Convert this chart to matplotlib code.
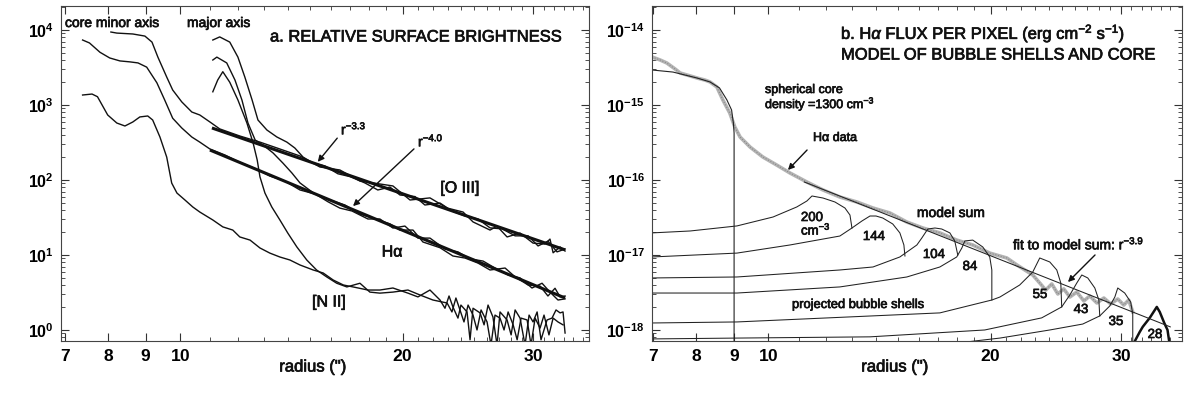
import matplotlib
matplotlib.use('Agg')
import matplotlib.pyplot as plt
import matplotlib.patheffects as pe
from matplotlib.ticker import FixedLocator, NullFormatter, FixedFormatter, LogLocator

plt.rcParams['font.family'] = ['Liberation Sans', 'DejaVu Sans']
plt.rcParams['mathtext.fontset'] = 'custom'
plt.rcParams['mathtext.rm'] = 'Liberation Sans'
plt.rcParams['mathtext.it'] = 'Liberation Sans:italic'
plt.rcParams['mathtext.bf'] = 'Liberation Sans:bold'

# ---------------- data: panel a (relative surface brightness) ----------------
oiii_minor_r = [8.07, 8.22, 8.64, 8.97, 9.17, 9.34, 9.60, 9.78, 10.06, 10.38, 10.64, 10.98, 11.32, 12.05, 12.83,
                13.65, 14.53, 15.46, 16.45, 17.51, 18.63, 19.40, 20.46, 21.77, 22.96, 24.13, 24.89, 26.24, 26.82,
                27.67, 28.81, 30.0, 31.14, 31.62, 31.93, 32.63, 33.14]
oiii_minor_v = [9400, 9100, 8850, 8300, 6900, 4350, 2360, 1585, 1100, 806, 736, 594, 480, 386, 320,
                259, 209, 149, 136, 97, 88.5, 83.3, 54.1, 57.7, 42.3, 37.4, 27.6, 21.5, 24.2,
                17.4, 19.6, 14.4, 14.0, 16.3, 10.7, 12.8, 11.3]

oiii_major_r = [11.08, 11.32, 11.68, 11.98, 12.24, 12.52, 12.75, 13.11, 13.52, 13.95, 14.30, 14.67, 15.14, 15.70,
                16.35, 16.97, 17.78, 18.51, 19.22, 19.83, 20.78, 21.43, 22.46, 23.31, 24.28, 25.28, 26.24, 27.24,
                28.37, 29.54, 30.47, 31.42, 32.32, 33.14]
oiii_major_v = [7356, 8090, 6900, 4350, 2360, 1166, 631, 464, 375, 320, 267, 202, 168, 154,
                121, 111, 91.4, 73.6, 80.5, 63.1, 60.1, 46.4, 49.3, 38.6, 33.1, 30.2, 23.0, 22.3,
                18.0, 18.0, 13.2, 15.3, 11.0, 12.0]

ha_minor_r = [7.39, 7.55, 7.80, 8.04, 8.30, 8.56, 8.78, 9.02, 9.31, 9.54, 9.78, 10.06, 10.38, 10.64, 10.98,
              11.51, 12.05, 12.64, 13.23, 13.86, 14.53, 15.23, 15.95, 16.71, 17.51, 18.34, 19.22, 19.83, 20.65,
              21.30, 22.46, 23.38, 24.28, 25.28, 26.24, 27.50, 28.37, 29.54, 30.66, 31.42, 32.12, 32.63, 33.14]
ha_minor_v = [7356, 6720, 5050, 4240, 3870, 3760, 3640, 3200, 1980, 1166, 666, 494, 374, 320, 259,
              215, 172, 142, 113, 97, 73.6, 65, 54.1, 46.4, 35.2, 30.2, 26, 21.5, 21.5,
              14.9, 12.5, 9.7, 9.1, 7.8, 6.31, 6.7, 5.1, 3.98, 3.85, 2.84, 3.6, 2.76, 2.84]

ha_major_r = [11.08, 11.22, 11.57, 11.87, 12.13, 12.36, 12.64, 12.95, 13.36, 13.78, 14.17, 14.53, 15.14, 15.85,
              16.45, 17.08, 17.95, 18.63, 19.40, 20.14, 20.97, 21.77, 22.81, 23.75, 24.66, 25.68, 26.65, 27.76,
              28.81, 29.90, 30.85, 31.62, 32.42, 33.14]
ha_major_v = [3981, 4350, 3640, 2154, 1166, 575, 341, 293, 230, 168, 124, 91.4, 67.5, 51.3,
              42.2, 38.6, 30.2, 30.2, 22.9, 24.3, 16.8, 16.8, 12.0, 11.0, 8.87, 8.3, 6.7, 5.41,
              4.94, 3.63, 4.2, 3.2, 2.51, 2.6]

nii_minor_r = [7.39, 7.61, 7.74, 7.99, 8.22, 8.43, 8.64, 8.83, 9.05, 9.19, 9.40, 9.60, 9.75, 9.91, 10.16,
               10.41, 10.64, 11.08, 11.43, 11.79, 12.05, 12.44, 12.83, 13.23, 13.65, 14.08, 14.53, 15.14, 15.62,
               16.11, 16.63, 17.14, 17.95, 18.63, 19.40, 20.33, 20.97, 21.77,
               22.46, 22.81, 23.10, 23.38, 23.75, 23.97, 24.43, 24.66, 24.89, 25.44, 25.76, 26.08, 26.48, 26.82,
               27.07, 27.67, 28.02, 28.37, 28.81, 29.26, 29.63, 30.0, 30.38, 30.75, 31.33, 31.82, 32.22, 32.63,
               32.93, 33.14]
nii_minor_v = [1359, 1400, 1290, 736, 575, 525, 594, 693, 714, 631, 374, 202, 91, 67, 54.1,
               43.7, 37.4, 29.3, 23.7, 21.5, 17.4, 15.8, 12.4, 10.6, 9.4, 8.58, 7.36, 6.31, 5.75,
               4.64, 3.98, 3.75, 3.41, 3.41, 3.63, 3.1, 2.76, 3.41,
               2.51, 1.95, 2.84, 2.03, 1.44, 2.15, 1.74, 0.74, 1.95, 1.69, 1.17, 2.15, 1.49, 0.63,
               1.74, 1.36, 0.86, 1.85, 1.44, 0.63, 1.58, 1.28, 1.74, 0.74, 1.36, 1.44, 1.85, 1.69,
               1.74, 0.91]

nii_major_r = [11.08, 11.25, 11.43, 11.68, 11.98, 12.32, 12.56, 12.72, 12.83, 13.03, 13.31, 13.65, 13.99, 14.39,
               14.84, 15.30, 15.79, 16.29, 16.81, 17.51, 18.06, 18.63, 19.40, 20.33, 21.10, 21.97,
               22.96, 23.31, 23.60, 23.90, 24.20, 24.51, 24.89, 25.20, 25.52, 26.0, 26.32, 26.65, 27.07, 27.41,
               27.76, 28.20, 28.55, 28.90, 29.45, 29.81, 30.19, 30.66, 31.04, 31.52, 31.93, 32.42, 32.93]
nii_major_v = [1500, 2154, 2780, 2010, 1166, 575, 311, 185, 110, 67, 43.7, 29.3, 19.6, 12.8,
               8.58, 6.31, 5.1, 4.2, 3.75, 4.2, 3.2, 3.1, 3.2, 3.41, 2.93, 2.51,
               2.29, 1.74, 2.67, 1.85, 1.28, 2.15, 1.58, 1.0, 1.85, 1.28, 0.63, 1.58, 1.44, 1.0,
               1.74, 1.17, 0.74, 1.44, 1.36, 0.63, 1.44, 1.06, 1.58, 0.86, 1.44, 1.28, 1.17]

fit33_r = [11.05, 33.14]
fit33_v = [494, 11.7]
fit40_r = [10.98, 33.14]
fit40_v = [251, 2.67]

# ---------------- data: panel b (H-alpha flux per pixel) ----------------
hadata_r = [6.97, 7.15, 7.30, 7.49, 7.61, 7.85, 8.02, 8.22, 8.35, 8.53, 8.69, 8.88, 9.02, 9.17, 9.46, 9.84,
            10.28, 10.71, 11.29, 11.87, 12.51, 13.19, 13.87, 14.62, 15.41, 16.20, 17.08, 18.0, 18.92, 19.95,
            21.04, 21.71, 22.81, 23.31, 23.75, 24.20, 24.66, 25.12, 25.60, 26.16, 26.74, 27.24, 27.85, 28.46,
            29.08, 29.72, 30.28, 30.75, 31.14]
hadata_v = [4.37e-15, 3.98e-15, 3.63e-15, 3.02e-15, 2.67e-15, 2.44e-15, 2.29e-15, 2.15e-15, 2.03e-15,
            1.74e-15, 1.17e-15, 7.82e-16, 5.09e-16, 3.74e-16, 2.75e-16, 2.03e-16, 1.58e-16, 1.24e-16,
            9.4e-17, 7.36e-17, 5.93e-17, 5.09e-17, 4.23e-17, 3.63e-17, 2.75e-17, 2.29e-17, 1.97e-17,
            1.58e-17, 1.36e-17, 1.06e-17, 9.12e-18, 7.36e-18, 5.41e-18, 4.23e-18, 3.41e-18, 4.11e-18,
            3.02e-18, 3.53e-18, 2.75e-18, 3.21e-18, 2.44e-18, 2.84e-18, 2.29e-18, 2.67e-18, 2.22e-18,
            2.59e-18, 2.15e-18, 2.51e-18, 1.74e-18]

core_r = [6.97, 7.44, 8.02, 8.35, 8.60, 8.80, 8.93, 8.98, 9.0, 9.0]
core_v = [2.93e-15, 2.75e-15, 2.29e-15, 2.03e-15, 1.69e-15, 1.17e-15, 8.58e-16, 5.75e-16, 4.23e-16, 1e-19]

shell200_r = [6.97, 7.85, 9.08, 10.16, 10.94, 11.29, 11.47, 11.87, 12.32, 12.71, 12.91, 12.99]
shell200_v = [1.97e-17, 2.09e-17, 2.44e-17, 3.21e-17, 4.37e-17, 5.25e-17, 6.12e-17, 5.75e-17, 5.09e-17,
              4.23e-17, 3.41e-17, 2.29e-17]
shell144_r = [6.97, 9.08, 10.71, 12.51, 12.99, 13.40, 13.74, 14.0, 14.30, 14.75, 15.08, 15.27, 15.32]
shell144_v = [9.41e-18, 1.06e-17, 1.36e-17, 1.79e-17, 2.29e-17, 2.84e-17, 3.31e-17, 3.31e-17, 3.11e-17,
              2.59e-17, 1.97e-17, 1.36e-17, 9.7e-18]
shell104_r = [6.97, 9.08, 12.51, 13.87, 15.08, 15.90, 16.15, 16.45, 16.82, 17.18, 17.62, 17.89, 18.06]
shell104_v = [4.94e-18, 5.09e-18, 6.31e-18, 6.92e-18, 9.41e-18, 1.36e-17, 1.69e-17, 2.22e-17, 2.29e-17,
              2.22e-17, 1.97e-17, 1.54e-17, 1.0e-17]
shell84_r = [6.97, 9.08, 12.51, 15.41, 17.08, 18.0, 18.29, 18.46, 18.92, 19.52, 19.95, 20.08, 20.08]
shell84_v = [3.11e-18, 3.11e-18, 3.75e-18, 5.09e-18, 6.92e-18, 9.41e-18, 1.24e-17, 1.54e-17, 1.58e-17,
             1.28e-17, 9.41e-18, 6.31e-18, 2.51e-18]
shell55_r = [6.97, 9.08, 17.08, 20.08, 20.59, 21.90, 22.81, 23.31, 24.05, 24.58, 24.89, 24.96]
shell55_v = [1.24e-18, 1.28e-18, 1.69e-18, 2.51e-18, 2.75e-18, 3.98e-18, 5.93e-18, 9.12e-18, 8.07e-18,
             6.31e-18, 4.23e-18, 2.03e-18]
shell43_r = [6.97, 9.08, 13.74, 19.64, 23.45, 24.96, 25.60, 26.16, 26.57, 27.07, 27.67, 28.02, 28.10]
shell43_v = [7.6e-19, 7.8e-19, 8.1e-19, 1.0e-18, 1.45e-18, 2.03e-18, 2.93e-18, 4.23e-18, 5.41e-18,
             4.94e-18, 3.63e-18, 2.51e-18, 1.54e-18]
shell35_r = [17.08, 20.59, 24.05, 26.65, 28.10, 28.99, 29.45, 29.72, 30.37, 30.94, 31.14, 31.14]
shell35_v = [6.3e-19, 7.8e-19, 1.0e-18, 1.2e-18, 1.54e-18, 2.09e-18, 2.75e-18, 3.63e-18, 3.11e-18,
             2.36e-18, 1.63e-18, 6.3e-19]
shell28_r = [31.14, 31.82, 32.12, 32.83, 33.56, 33.87, 34.35, 34.70, 34.94]
shell28_v = [6.3e-19, 9.4e-19, 1.10e-18, 1.45e-18, 2.03e-18, 1.74e-18, 1.24e-18, 1.0e-18, 6.3e-19]

fit39_r = [11.2, 35.0]
fit39_v = [9.4e-17, 1.1e-18]

xticks = [7, 8, 9, 10, 20, 30]
xtick_labels = [r'$\mathbf{7}$', r'$\mathbf{8}$', r'$\mathbf{9}$', r'$\mathbf{10}$', r'$\mathbf{20}$', r'$\mathbf{30}$']
xminor = [11, 12, 13, 14, 15, 16, 17, 18, 19, 21, 22, 23, 24, 25, 26, 27, 28, 29, 31, 32, 33, 34, 35]
ytL = [1e0, 1e1, 1e2, 1e3, 1e4]
ytL_labels = [r'$\mathbf{10^{0}}$', r'$\mathbf{10^{1}}$', r'$\mathbf{10^{2}}$', r'$\mathbf{10^{3}}$', r'$\mathbf{10^{4}}$']
ytR = [1e-18, 1e-17, 1e-16, 1e-15, 1e-14]
ytR_labels = [r'$\mathbf{10^{-18}}$', r'$\mathbf{10^{-17}}$', r'$\mathbf{10^{-16}}$', r'$\mathbf{10^{-15}}$', r'$\mathbf{10^{-14}}$']

# ---------------- figure ----------------
W, H = 1200, 395
fig = plt.figure(figsize=(12, 3.95), dpi=100)


def fx(px):
    return px / W


def fy(py):
    return 1 - py / H


axL = fig.add_axes([fx(61), fy(341), (589 - 61) / W, (341 - 6) / H])
axR = fig.add_axes([fx(652), fy(341), (1182 - 652) / W, (341 - 6) / H])

for ax in (axL, axR):
    ax.set_xscale('log')
    ax.set_yscale('log')
    ax.xaxis.set_major_locator(FixedLocator(xticks))
    ax.xaxis.set_major_formatter(FixedFormatter(xtick_labels))
    ax.xaxis.set_minor_locator(FixedLocator(xminor))
    ax.xaxis.set_minor_formatter(NullFormatter())
    ax.yaxis.set_minor_locator(LogLocator(base=10, subs=range(2, 10), numticks=20))
    ax.yaxis.set_minor_formatter(NullFormatter())
    ax.tick_params(which='both', direction='in', top=True, right=True, color='#333333')
    ax.tick_params(which='major', length=6, width=0.8)
    ax.tick_params(which='minor', length=3, width=0.6)
    ax.tick_params(axis='x', which='major', labelsize=12.5, pad=5)
    ax.tick_params(axis='y', which='major', labelsize=11.5, pad=5)
    for sp in ax.spines.values():
        sp.set_linewidth(0.8)
        sp.set_color('#444444')

# panel a
axL.set_xlim(6.91, 35.7)
axL.set_ylim(0.713, 20900)
axL.yaxis.set_major_locator(FixedLocator(ytL))
axL.yaxis.set_major_formatter(FixedFormatter(ytL_labels))
for xs, ys in [(oiii_minor_r, oiii_minor_v), (oiii_major_r, oiii_major_v),
               (ha_minor_r, ha_minor_v), (ha_major_r, ha_major_v),
               (nii_minor_r, nii_minor_v), (nii_major_r, nii_major_v)]:
    axL.plot(xs, ys, color='#111111', lw=1.0)
axL.plot(fit33_r, fit33_v, color='#111111', lw=2.2, solid_capstyle='butt')
axL.plot(fit40_r, fit40_v, color='#111111', lw=2.2, solid_capstyle='butt')

# panel b
axR.set_xlim(6.97, 36.3)
axR.set_ylim(7.13e-19, 2.09e-14)
axR.yaxis.set_major_locator(FixedLocator(ytR))
axR.yaxis.set_major_formatter(FixedFormatter(ytR_labels))
axR.plot(hadata_r, hadata_v, color='#b4b4b4', lw=2.6, solid_joinstyle='round')
axR.plot(hadata_r, hadata_v, color='#8a8a8a', lw=0.8, ls=(0, (1, 1.5)))
axR.plot(core_r, core_v, color='#222222', lw=0.8)
for xs, ys in [(shell200_r, shell200_v), (shell144_r, shell144_v), (shell104_r, shell104_v),
               (shell84_r, shell84_v), (shell55_r, shell55_v), (shell43_r, shell43_v),
               (shell35_r, shell35_v)]:
    axR.plot(xs, ys, color='#222222', lw=0.75)
axR.plot(shell28_r, shell28_v, color='#111111', lw=1.8)
axR.plot(fit39_r, fit39_v, color='#222222', lw=0.75)

thick = [pe.withStroke(linewidth=0.5, foreground='#111111')]


# ---------------- text ----------------
def T(px, py, s, size=10, ha='left', weight='normal'):
    fig.text(fx(px), fy(py), s, fontsize=size, ha=ha, va='center', weight=weight, color='#111111',
             path_effects=thick)


def arrow(px0, py0, px1, py1, head=True):
    fig.add_artist(matplotlib.patches.FancyArrowPatch(
        (fx(px0), fy(py0)), (fx(px1), fy(py1)), transform=fig.transFigure,
        arrowstyle='-|>' if head else '-', mutation_scale=9, lw=1.0, color='#111111'))


T(65, 23, 'core minor axis', 10)
T(187, 23, 'major axis', 10)
T(270, 37, 'a. RELATIVE SURFACE BRIGHTNESS', 11.9)
T(341, 128, r'r$^{-3.3}$', 10)
arrow(339, 136, 316, 164)
T(418, 140, r'r$^{-4.0}$', 10)
arrow(416, 147, 351, 208)
T(460, 188, '[O III]', 11.5, ha='center')
T(392, 252, 'Hα', 11.5, ha='center')
T(329, 302, '[N II]', 11.5, ha='center')
T(313, 367, 'radius (")', 12, ha='center')

T(841, 33, r'b. H$\alpha$ FLUX PER PIXEL (erg cm$^{-2}$ s$^{-1}$)', 11.9)
T(841, 55, 'MODEL OF BUBBLE SHELLS AND CORE', 11.9)
T(765, 90, 'spherical core', 9)
T(765, 104, r'density =1300 cm$^{-3}$', 9)
T(813, 138, 'Hα data', 9)
arrow(809, 148, 786, 172)
T(812, 218, '200', 9.5, ha='center')
T(816, 230, r'cm$^{-3}$', 9.5, ha='center')
T(874, 237, '144', 9.5, ha='center')
T(934, 255, '104', 9.5, ha='center')
T(970, 267, '84', 9.5, ha='center')
T(1040, 295, '55', 9.5, ha='center')
T(1081, 310, '43', 9.5, ha='center')
T(1116, 322, '35', 9.5, ha='center')
T(1155, 335, '28', 9.5, ha='center')
T(951, 213, 'model sum', 10, ha='center')
T(792, 305, 'projected bubble shells', 9.3)
T(1013, 243, r'fit to model sum: r$^{-3.9}$', 10)
arrow(1097, 253, 1066, 284)
T(895, 367, 'radius (")', 12, ha='center')

fig.savefig('out.png', dpi=100, facecolor='white')
